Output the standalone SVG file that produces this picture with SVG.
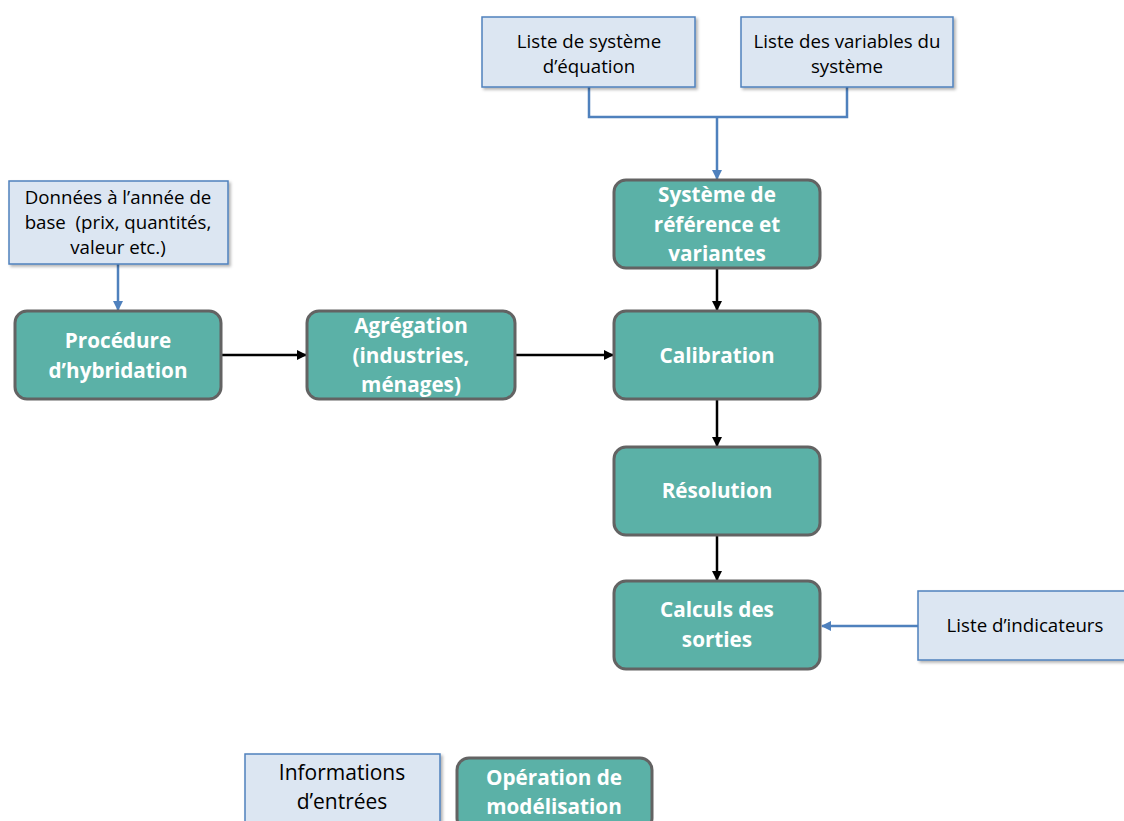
<svg xmlns="http://www.w3.org/2000/svg" width="1124" height="821" viewBox="0 0 1124 821">
<defs>
<filter id="sh" x="-10%" y="-10%" width="130%" height="130%"><feDropShadow dx="2" dy="2" stdDeviation="1.5" flood-color="#000" flood-opacity="0.3"/></filter>
<marker id="ab" markerWidth="10" markerHeight="10" refX="9" refY="5" orient="auto" markerUnits="userSpaceOnUse"><path d="M0,0 L10,5 L0,10 Z" fill="#000"/></marker>
<marker id="abl" markerWidth="10" markerHeight="10" refX="9" refY="5" orient="auto" markerUnits="userSpaceOnUse"><path d="M0,0 L10,5 L0,10 Z" fill="#4f81bd"/></marker>
<style>
.in{fill:#dce6f2;stroke:#4f81bd;stroke-width:1.5;filter:url(#sh)}
.op{fill:#5bb1a7;stroke:#636363;stroke-width:3}
.t1{font-family:"Open Sans","Liberation Sans",sans-serif;font-size:18.7px;fill:#000;text-anchor:middle;white-space:pre}
.t2{font-family:"Open Sans","Liberation Sans",sans-serif;font-size:20.7px;font-weight:bold;fill:#fff;text-anchor:middle}
.lg{font-size:21px}
.cb{stroke:#000;stroke-width:2.5;fill:none}
.cl{stroke:#4f81bd;stroke-width:2.5;fill:none}
</style>
</defs>
<rect width="1124" height="821" fill="#fff"/>
<g id="connectors">
<path class="cl" d="M589,87 V117 H847 V87"/>
<path class="cl" d="M717,117 V179" marker-end="url(#abl)"/>
<path class="cl" d="M118,264 V310" marker-end="url(#abl)"/>
<path class="cl" d="M918,626 H822" marker-end="url(#abl)"/>
<path class="cb" d="M221,355 H306" marker-end="url(#ab)"/>
<path class="cb" d="M515,355 H613" marker-end="url(#ab)"/>
<path class="cb" d="M717,268 V310" marker-end="url(#ab)"/>
<path class="cb" d="M717,399 V446" marker-end="url(#ab)"/>
<path class="cb" d="M717,535 V580" marker-end="url(#ab)"/>
</g>
<g id="liste-systeme"><rect class="in" x="482" y="17" width="213" height="70"/><text class="t1" x="589" y="48">Liste de système</text><text class="t1" x="589" y="73">d’équation</text></g>
<g id="liste-variables"><rect class="in" x="741" y="17" width="212" height="70"/><text class="t1" x="847" y="48">Liste des variables du</text><text class="t1" x="847" y="73">système</text></g>
<g id="donnees"><rect class="in" x="9" y="181" width="219" height="83"/><text class="t1" x="118" y="204">Données à l’année de</text><text class="t1" x="118" y="229" xml:space="preserve">base  (prix, quantités,</text><text class="t1" x="118" y="254">valeur etc.)</text></g>
<g id="liste-indicateurs"><rect class="in" x="918" y="591" width="210" height="69"/><text class="t1" x="1025" y="632">Liste d’indicateurs</text></g>
<g id="informations"><rect class="in" x="245" y="754" width="195" height="72"/><text class="t1 lg" x="342" y="780">Informations</text><text class="t1 lg" x="342" y="809">d’entrées</text></g>
<g id="systeme"><rect class="op" x="614" y="180" width="206" height="88" rx="12"/><text class="t2" x="717" y="202">Système de</text><text class="t2" x="717" y="232">référence et</text><text class="t2" x="717" y="261">variantes</text></g>
<g id="procedure"><rect class="op" x="15" y="311" width="206" height="88" rx="12"/><text class="t2" x="118" y="348">Procédure</text><text class="t2" x="118" y="378">d’hybridation</text></g>
<g id="agregation"><rect class="op" x="307" y="311" width="208" height="88" rx="12"/><text class="t2" x="411" y="333">Agrégation</text><text class="t2" x="411" y="363">(industries,</text><text class="t2" x="411" y="392">ménages)</text></g>
<g id="calibration"><rect class="op" x="614" y="311" width="206" height="88" rx="12"/><text class="t2" x="717" y="363">Calibration</text></g>
<g id="resolution"><rect class="op" x="614" y="447" width="206" height="88" rx="12"/><text class="t2" x="717" y="498">Résolution</text></g>
<g id="calculs"><rect class="op" x="614" y="581" width="206" height="88" rx="12"/><text class="t2" x="717" y="617">Calculs des</text><text class="t2" x="717" y="647">sorties</text></g>
<g id="operation"><rect class="op" x="457" y="758" width="195" height="72" rx="12"/><text class="t2" x="554" y="785">Opération de</text><text class="t2" x="554" y="814">modélisation</text></g>
</svg>
